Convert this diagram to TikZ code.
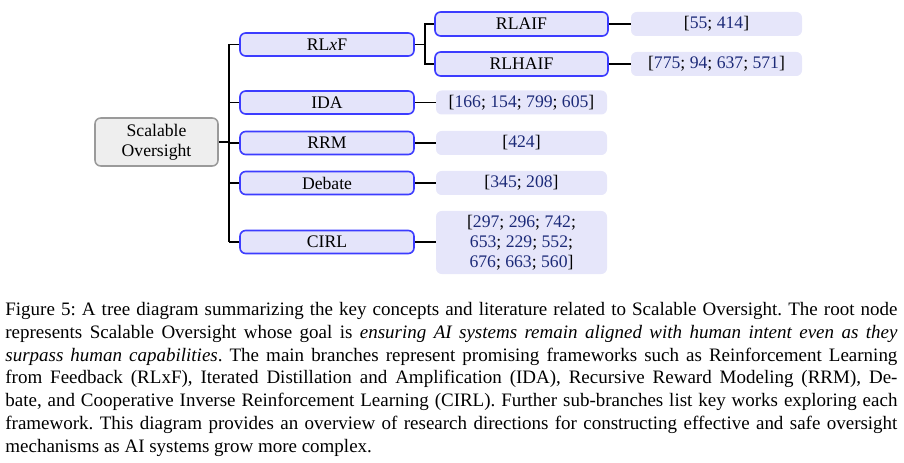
\documentclass[tikz,border=0pt]{standalone}
\usepackage{fontspec}
\setmainfont{Liberation Serif}
\usetikzlibrary{positioning}
\definecolor{rootfill}{HTML}{EEEEEE}
\definecolor{rootdraw}{HTML}{9A9A9A}
\definecolor{midfill}{HTML}{E4E4FA}
\definecolor{middraw}{HTML}{3C3CFF}
\definecolor{leaffill}{HTML}{E6E6FA}
\definecolor{citeblue}{HTML}{1C2A78}
\newcommand{\pxu}{0.5266pt}
\newcommand{\cn}[1]{\textcolor{citeblue}{#1}}
\frenchspacing
\tikzset{
  x=0.5266pt, y=-0.5266pt,
  base/.style={rounded corners=3pt, align=center, inner sep=0pt,
    font=\fontsize{9.3}{10.5}\selectfont},
  rootbox/.style={base, fill=rootfill, draw=rootdraw, line width=0.8pt,
    minimum width=123*\pxu, minimum height=48*\pxu},
  midbox/.style={base, fill=midfill, draw=middraw, line width=0.85pt,
    minimum width=174*\pxu, minimum height=23*\pxu},
  subbox/.style={base, fill=midfill, draw=middraw, line width=0.85pt,
    minimum width=173*\pxu, minimum height=24*\pxu},
  leafbox/.style={base, fill=leaffill, draw=none,
    minimum width=171*\pxu, minimum height=24*\pxu},
  conn/.style={draw=black, line width=0.6pt},
}
\begin{document}
\begin{tikzpicture}
\useasboundingbox (0,0) rectangle (904,463);
% root
\node[rootbox] (root) at (156.5,142) {Scalable\\Oversight};
% level 1
\node[midbox] (rlxf) at (327,44.5) {RL\textit{x}F};
\node[midbox] (ida) at (327,102.5) {IDA};
\node[midbox] (rrm) at (327,143) {RRM};
\node[midbox] (deb) at (327,183) {Debate};
\node[midbox] (cirl) at (327,242) {CIRL};
% level 2
\node[subbox] (rlaif) at (521.5,24) {RLAIF};
\node[subbox] (rlhaif) at (521.5,64) {RLHAIF};
% leaves
\node[leafbox] (l1) at (716.5,24) {[\cn{55}; \cn{414}]};
\node[leafbox] (l2) at (716.5,64) {[\cn{775}; \cn{94}; \cn{637}; \cn{571}]};
\node[leafbox] (l3) at (521.5,102.5) {[\cn{166}; \cn{154}; \cn{799}; \cn{605}]};
\node[leafbox] (l4) at (521.5,143) {[\cn{424}]};
\node[leafbox] (l5) at (521.5,183) {[\cn{345}; \cn{208}]};
\node[leafbox, minimum height=63*\pxu] (l6) at (521.5,242.5)
  {[\cn{297}; \cn{296}; \cn{742};\\\cn{653}; \cn{229}; \cn{552};\\\cn{676}; \cn{663}; \cn{560}]};
% connectors
\coordinate (tr) at (229,0);
\draw[conn] (root.east) -- (root.east -| tr);
\foreach \n in {rlxf,ida,rrm,deb,cirl}
  \draw[conn] (\n.west) -- (\n.west -| tr);
\draw[conn] (rlxf.west -| tr) -- (cirl.west -| tr);
\coordinate (tr2) at (425,0);
\draw[conn] (rlxf.east) -- (rlxf.east -| tr2);
\draw[conn] (rlaif.west) -| (tr2 |- rlhaif.west) -- (rlhaif.west);
\draw[conn] (rlaif.east) -- (l1.west);
\draw[conn] (rlhaif.east) -- (l2.west);
\draw[conn] (ida.east) -- (l3.west);
\draw[conn] (rrm.east) -- (l4.west);
\draw[conn] (deb.east) -- (l5.west);
\draw[conn] (cirl.east) -- (cirl.east -| l6.west);
% caption
\node[anchor=north west, inner sep=0pt, align=left,
  font=\fontsize{10}{12}\selectfont] (cap) at (5,302) {%
\makebox[469.75pt][s]{Figure 5: A tree diagram summarizing the key concepts and literature related to Scalable Oversight. The root node}\\
\makebox[469.75pt][s]{represents Scalable Oversight whose goal is \textit{ensuring AI systems remain aligned with human intent even as they}}\\
\makebox[469.75pt][s]{\textit{surpass human capabilities}. The main branches represent promising frameworks such as Reinforcement Learning}\\
\makebox[469.75pt][s]{from Feedback (RLxF), Iterated Distillation and Amplification (IDA), Recursive Reward Modeling (RRM), De-}\\
\makebox[469.75pt][s]{bate, and Cooperative Inverse Reinforcement Learning (CIRL). Further sub-branches list key works exploring each}\\
\makebox[469.75pt][s]{framework. This diagram provides an overview of research directions for constructing effective and safe oversight}\\
mechanisms as AI systems grow more complex.};
\end{tikzpicture}
\end{document}
